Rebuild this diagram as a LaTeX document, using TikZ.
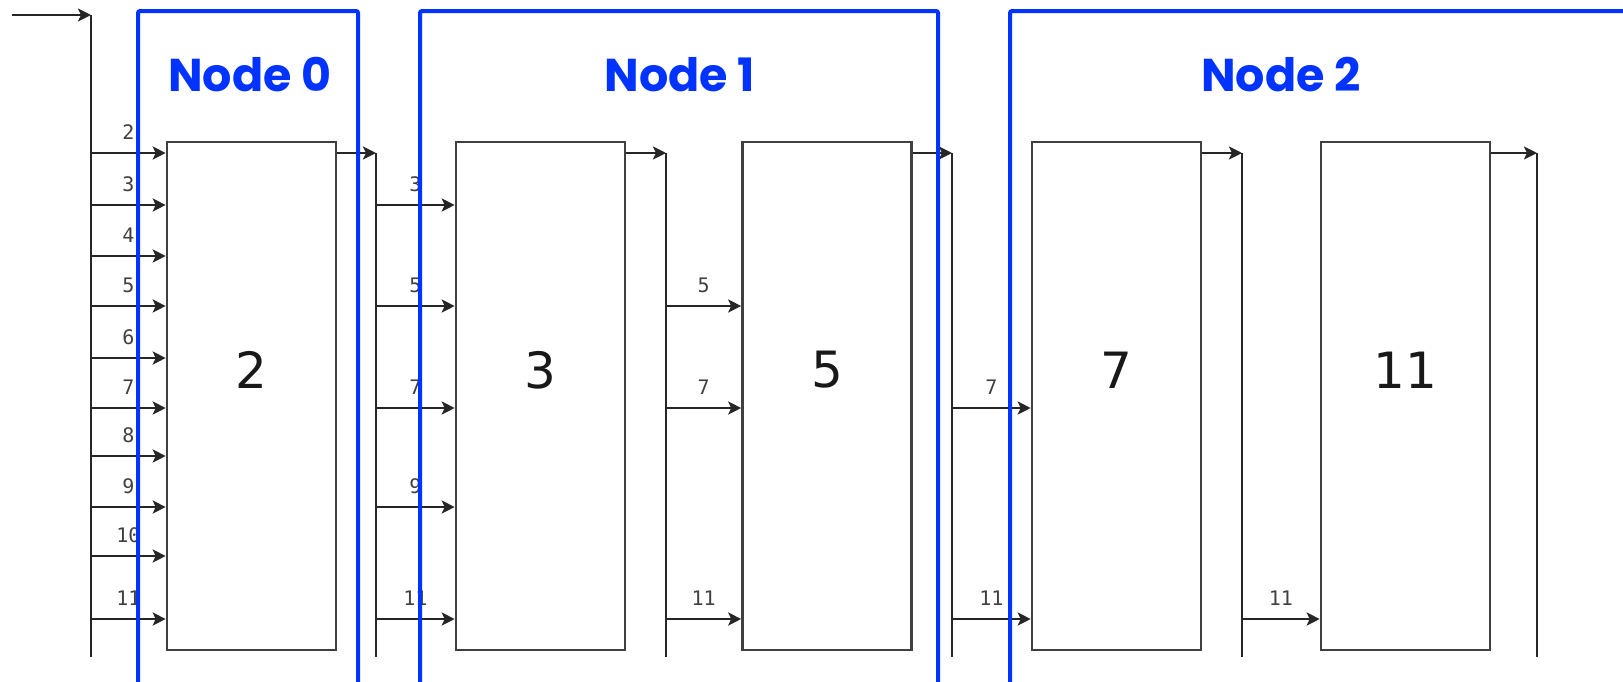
\documentclass[tikz,border=0pt]{standalone}
\usepackage{fontspec}
\setmainfont{DejaVu Sans}
\newfontfamily\nodefont{Poppins}
\newfontfamily\tagfont{DejaVu Sans Mono}
\usetikzlibrary{arrows.meta}

\definecolor{nodeblue}{RGB}{0,51,255}
\tikzset{
  sieve/.style={draw=black!75,line width=1.3pt,minimum width=84.5pt,minimum height=254pt,inner sep=0pt},
  prime/.style={font=\fontsize{25}{26}\selectfont,text=black!90},
  bus/.style={draw=black!85,line width=1.2pt},
  feed/.style={draw=black!85,line width=1.2pt,-{Stealth[length=6.5pt,width=6.5pt,inset=1.5pt]}},
  tag/.style={font=\tagfont\fontsize{10}{11}\selectfont,text=black!75,inner sep=0pt},
  group/.style={draw=nodeblue,line width=2pt,rounded corners=1pt},
  grouplabel/.style={font=\nodefont\bfseries\fontsize{23}{24}\selectfont,text=nodeblue}
}

\begin{document}
\begin{tikzpicture}[x=0.5pt,y=-0.5pt]
  \useasboundingbox (0,0) rectangle (1623,681);
  \clip (0,0) rectangle (1623,681);
  % filter boxes
  \foreach \p/\x in {2/251.5,3/540.5,5/827,7/1116.5,11/1405.5}{
    \node[sieve] (b\p) at (\x,396) {};
    \node[prime] (n\p) at ([yshift=13pt]b\p.center) {\p};
  }
  % buses
  \coordinate (in) at (12,15);
  \coordinate (s0) at (91,15);
  \foreach \i/\x in {1/376,2/666,3/952,4/1242,5/1537}
    \coordinate (s\i) at (\x,153);
  \foreach \i in {0,...,5}
    \draw[bus] (s\i) -- (s\i |- 0,657);
  \draw[feed] (in) -- (s0);
  \foreach \p/\i in {2/1,3/2,5/3,7/4,11/5}
    \draw[feed] (b\p.east |- s\i) -- (s\i);
  % numbers passed on
  \foreach \v/\y in {2/153,3/205,4/256,5/306,6/358,7/408,8/456,9/507,10/556,11/619}
    \draw[feed] (s0 |- 0,\y) -- node[tag,above=6pt] {\v} (b2.west |- 0,\y);
  \foreach \v/\y in {3/205,5/306,7/408,9/507,11/619}
    \draw[feed] (s1 |- 0,\y) -- node[tag,above=6pt] {\v} (b3.west |- 0,\y);
  \foreach \v/\y in {5/306,7/408,11/619}
    \draw[feed] (s2 |- 0,\y) -- node[tag,above=6pt] {\v} (b5.west |- 0,\y);
  \foreach \v/\y in {7/408,11/619}
    \draw[feed] (s3 |- 0,\y) -- node[tag,above=6pt] {\v} (b7.west |- 0,\y);
  \draw[feed] (s4 |- 0,619) -- node[tag,above=6pt] {11} (b11.west |- 0,619);
  % machines
  \draw[group] (138,11) rectangle (358,720);
  \draw[group] (420,11) rectangle (938,720);
  \draw[group] (1010,11) rectangle (1660,720);
  \node[grouplabel] (g0) at (250,75) {Node 0};
  \node[grouplabel] (g1) at (680,75) {Node 1};
  \node[grouplabel] (g2) at (1281,75) {Node 2};
\end{tikzpicture}
\end{document}
